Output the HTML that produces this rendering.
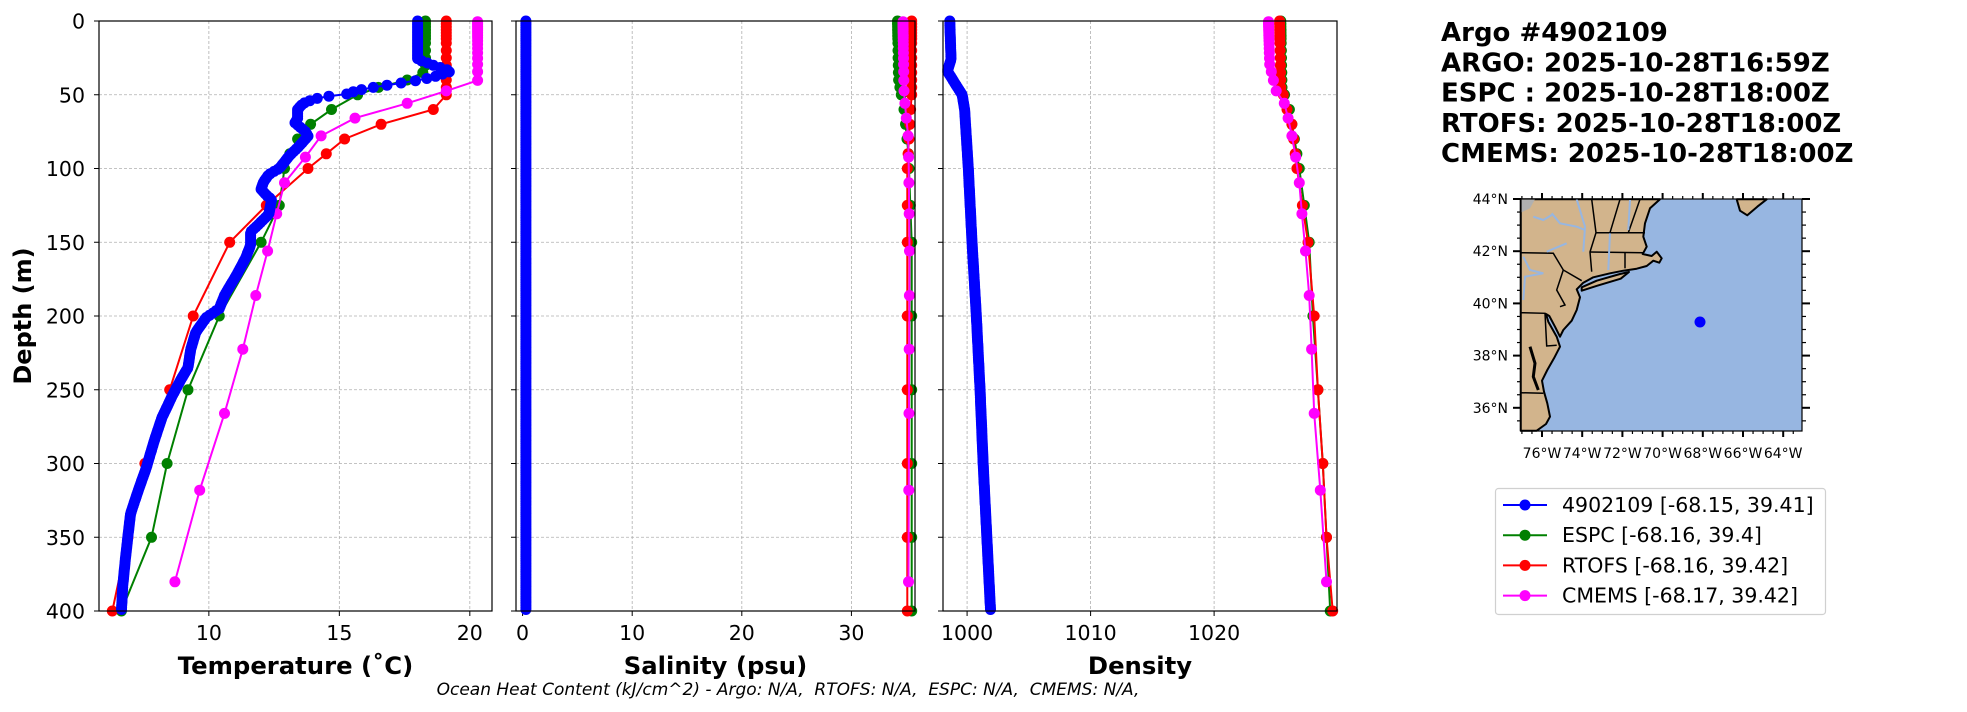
<!DOCTYPE html>
<html><head><meta charset="utf-8">
<style>
html,body{margin:0;padding:0;background:#fff;}
body{width:1967px;height:712px;overflow:hidden;position:relative;font-family:"DejaVu Sans","Liberation Sans",sans-serif;}
svg{position:absolute;left:0;top:0;}
</style></head><body>
<svg id="s" width="1967" height="712" xmlns="http://www.w3.org/2000/svg" font-family="DejaVu Sans, Liberation Sans, sans-serif"></svg>
<script>
(function(){
const S=document.getElementById('s');let h='';
const yT=21,yB=611;const dy=d=>yT+d*(yB-yT)/400;
const panels={
 t:{l:99,r:492,x0:5.79,x1:20.85},
 s:{l:516,r:915,x0:-0.6,x1:35.8},
 d:{l:943,r:1337,x0:998.05,x1:1029.95}
};
const px=(p,v)=>p.l+(v-p.x0)/(p.x1-p.x0)*(p.r-p.l);
function interp(pts,d){for(let i=0;i<pts.length-1;i++){if(d>=pts[i][0]&&d<=pts[i+1][0]){const f=(d-pts[i][0])/((pts[i+1][0]-pts[i][0])||1);return pts[i][1]+f*(pts[i+1][1]-pts[i][1]);}}return pts[pts.length-1][1];}
function series(p,depths,pts,col,lw,r){let s='';const c=depths.map(d=>[px(p,interp(pts,d)),dy(d)]);
 s+='<polyline points="'+c.map(q=>q[0].toFixed(1)+','+q[1].toFixed(1)).join(' ')+'" fill="none" stroke="'+col+'" stroke-width="'+lw+'"/>';
 c.forEach(q=>{s+='<circle cx="'+q[0].toFixed(1)+'" cy="'+q[1].toFixed(1)+'" r="'+r+'" fill="'+col+'"/>';});return s;}
function panel(p,ticks,xlabel){
 let s='';
 ticks.forEach(v=>{const x=px(p,v);s+=`<line x1="${x}" y1="${yT}" x2="${x}" y2="${yB}" stroke="#b0b0b0" stroke-width="0.8" stroke-dasharray="3,2"/>`;
  s+=`<line x1="${x}" y1="${yB}" x2="${x}" y2="${yB+5}" stroke="#000" stroke-width="1"/>`;
  s+=`<text x="${x}" y="640" font-size="20.5" text-anchor="middle">${v}</text>`;});
 for(let d=50;d<400;d+=50){s+=`<line x1="${p.l}" y1="${dy(d)}" x2="${p.r}" y2="${dy(d)}" stroke="#b0b0b0" stroke-width="0.8" stroke-dasharray="3,2"/>`;}
 for(let d=0;d<=400;d+=50){s+=`<line x1="${p.l-5}" y1="${dy(d)}" x2="${p.l}" y2="${dy(d)}" stroke="#000" stroke-width="1"/>`;}
 s+=`<text x="${(p.l+p.r)/2}" y="674" font-size="24.3" font-weight="bold" text-anchor="middle">${xlabel}</text>`;
 return s;}
h+=panel(panels.t,[10,15,20],'Temperature (˚C)');
h+=panel(panels.s,[0,10,20,30],'Salinity (psu)');
h+=panel(panels.d,[1000,1010,1020],'Density');
for(let d=0;d<=400;d+=50)h+=`<text x="85" y="${dy(d)+7.5}" font-size="20.5" text-anchor="end">${d}</text>`;
h+=`<text transform="translate(31,316) rotate(-90)" font-size="24" font-weight="bold" text-anchor="middle">Depth (m)</text>`;
const argoT=[[0,18.0],[26,18.0],[30,18.6],[34,19.3],[38,18.6],[40,18.1],[43,17.0],[45,16.3],[47,15.7],[50,15.2],[51,14.6],[53,14.0],[56,13.6],[60,13.4],[66,13.4],[69,13.3],[75,13.7],[78,13.8],[86,13.4],[91,13.1],[100,12.7],[104,12.3],[109,12.1],[114,12.0],[118,12.2],[121,12.4],[131,12.3],[138,11.9],[143,11.6],[152,11.6],[161,11.4],[171,11.1],[186,10.6],[195,10.4],[201,9.9],[211,9.5],[223,9.3],[235,9.2],[244,8.9],[254,8.6],[269,8.2],[285,7.9],[303,7.6],[318,7.3],[334,7.0],[349,6.9],[365,6.8],[383,6.7],[400,6.65]];
const argoD=[];for(let d=0;d<=400;d+=1.5)argoD.push(d);
const mL=[0,2,4,6,8,10,12,15,20,25,30,35,40,45,50,60,70,80,90,100,125,150,200,250,300,350,400];
const cL=[0.5,1.5,2.6,3.8,5.1,6.4,7.9,9.6,11.4,13.5,15.8,18.5,21.6,25.2,29.4,34.4,40.3,47.4,55.8,65.8,77.9,92.3,109.7,130.7,155.9,186.1,222.5,266.0,318.1,380.2];
const espT=[[0,18.3],[30,18.3],[35,18.2],[40,17.6],[45,16.5],[50,15.7],[60,14.7],[70,13.9],[80,13.4],[90,13.1],[100,12.9],[125,12.7],[150,12.0],[200,10.4],[250,9.2],[300,8.4],[350,7.8],[400,6.65]];
const rtT=[[0,19.1],[50,19.1],[60,18.6],[70,16.6],[80,15.2],[90,14.5],[100,13.8],[125,12.2],[150,10.8],[200,9.4],[250,8.5],[300,7.55],[350,6.9],[400,6.3]];
const cmT=[[0,20.3],[40.3,20.3],[47.4,19.1],[55.8,17.6],[65.8,15.6],[77.9,14.3],[92.3,13.7],[109.7,12.9],[130.7,12.6],[155.9,12.25],[186.1,11.8],[222.5,11.3],[266,10.6],[318.1,9.65],[380.2,8.7]];
h+=series(panels.t,mL,espT,'#008000',2,5.5);
h+=series(panels.t,mL,rtT,'#ff0000',2,5.5);
h+=series(panels.t,cL,cmT,'#ff00ff',2,5.5);
h+=series(panels.t,argoD,argoT,'#0000ff',2,5.5);
h+=series(panels.s,mL,[[0,34.2],[40,34.3],[60,34.8],[90,35.2],[150,35.5],[400,35.5]],'#008000',2,5.5);
h+=series(panels.s,mL,[[0,35.5],[50,35.5],[60,35.4],[100,35.1],[400,35.1]],'#ff0000',2,5.5);
h+=series(panels.s,cL,[[0,34.7],[50,34.8],[80,35.2],[150,35.3],[400,35.2]],'#ff00ff',2,5.5);
h+=series(panels.s,argoD,[[0,0.3],[400,0.3]],'#0000ff',2,5.5);
h+=series(panels.d,mL,[[0,1025.4],[45,1025.5],[50,1025.7],[60,1026.1],[100,1026.9],[150,1027.7],[200,1028.0],[300,1028.8],[400,1029.4]],'#008000',2,5.5);
h+=series(panels.d,mL,[[0,1025.3],[45,1025.4],[50,1025.6],[60,1025.9],[70,1026.3],[100,1026.7],[150,1027.6],[200,1028.1],[250,1028.4],[300,1028.8],[350,1029.1],[400,1029.6]],'#ff0000',2,5.5);
h+=series(panels.d,cL,[[0,1024.4],[30,1024.5],[47,1025.0],[56,1025.7],[66,1026.0],[78,1026.3],[92,1026.6],[110,1026.9],[130,1027.1],[156,1027.4],[186,1027.7],[223,1027.9],[266,1028.1],[318,1028.6],[380,1029.1]],'#ff00ff',2,5.5);
h+=series(panels.d,argoD,[[0,998.6],[26,998.7],[34,998.4],[42,999.0],[50,999.6],[60,999.8],[100,1000.1],[150,1000.4],[200,1000.75],[250,1001.05],[300,1001.3],[350,1001.6],[400,1001.9]],'#0000ff',2,5.5);
for(const k in panels){const p=panels[k];h+=`<rect x="${p.l}" y="${yT}" width="${p.r-p.l}" height="${yB-yT}" fill="none" stroke="#000" stroke-width="1.2"/>`;}
h+=`<text x="788" y="695" font-size="17" font-style="italic" text-anchor="middle" xml:space="preserve">Ocean Heat Content (kJ/cm^2) - Argo: N/A,  RTOFS: N/A,  ESPC: N/A,  CMEMS: N/A,</text>`;
['Argo #4902109','ARGO: 2025-10-28T16:59Z','ESPC : 2025-10-28T18:00Z','RTOFS: 2025-10-28T18:00Z','CMEMS: 2025-10-28T18:00Z'].forEach((t,i)=>{
 h+=`<text x="1441" y="${41+i*30.3}" font-size="26" font-weight="bold">${t}</text>`;});
const mx=z=>z/3+1510,my=z=>z/3+190;
const poly=(arr,fill,stroke,sw)=>`<polygon points="${arr.map(q=>mx(q[0]).toFixed(1)+','+my(q[1]).toFixed(1)).join(' ')}" fill="${fill}" stroke="${stroke}" stroke-width="${sw}" stroke-linejoin="round"/>`;
const pl=(arr,stroke,sw)=>`<polyline points="${arr.map(q=>mx(q[0]).toFixed(1)+','+my(q[1]).toFixed(1)).join(' ')}" fill="none" stroke="${stroke}" stroke-width="${sw}"/>`;
h+=`<rect x="1521" y="199" width="281" height="232" fill="#97b6e1"/>`;
h+=poly([[32,28],[450,28],[420,55],[405,100],[400,140],[410,170],[398,192],[425,198],[440,185],[455,205],[448,218],[430,212],[410,228],[380,236],[340,242],[300,250],[250,262],[220,278],[200,298],[210,322],[200,360],[185,392],[160,420],[150,440],[135,410],[118,378],[108,372],[115,395],[140,440],[150,470],[132,505],[112,540],[96,572],[102,605],[112,640],[120,680],[108,702],[80,722],[32,722]],'#d2b48c','#000',2);
h+=poly([[215,292],[260,272],[330,252],[357,246],[332,266],[262,287],[215,302]],'#d2b48c','#000',2);
h+=poly([[680,28],[770,28],[742,50],[712,76],[690,62]],'#d2b48c','#000',2);
h+=poly([[32,28],[75,28],[60,55],[32,68]],'#b0b0b0','none',0);
h+=pl([[32,188],[130,190],[160,240],[215,272]],'#000',1.5);
h+=pl([[245,28],[258,128],[240,186],[245,245]],'#000',1.5);
h+=pl([[258,128],[405,128]],'#000',1.5);
h+=pl([[240,186],[400,188]],'#000',1.5);
h+=pl([[345,188],[345,235]],'#000',1.5);
h+=pl([[300,128],[330,28]],'#000',1.5);
h+=pl([[355,128],[390,28]],'#000',1.5);
h+=pl([[160,240],[140,300],[165,345],[150,350]],'#000',1.5);
h+=pl([[32,368],[105,370],[110,468],[140,466]],'#000',1.5);
h+=pl([[32,608],[100,610]],'#000',1.5);
h+=pl([[60,470],[75,520],[70,560],[85,600]],'#000',3);
h+=pl([[200,28],[225,110],[220,185]],'#97b6e1',2);
h+=pl([[125,70],[150,100],[200,110],[225,120]],'#97b6e1',2);
h+=pl([[70,80],[100,90],[125,75]],'#97b6e1',2);
h+=pl([[40,200],[60,240],[100,250],[45,260],[40,330]],'#97b6e1',2);
h+=pl([[110,185],[170,160]],'#97b6e1',2);
h+=pl([[300,130],[295,240]],'#97b6e1',2);
h+=pl([[360,30],[355,120]],'#97b6e1',2);
h+=`<circle cx="1700" cy="322" r="5.5" fill="#0000ff"/>`;
h+=`<rect x="1521" y="199" width="281" height="232" fill="none" stroke="#000" stroke-width="1.2"/>`;
for(let lo=77;lo>=63;lo-=0.5){const x=1542+(76-lo)*20.1;if(x<1521||x>1802)continue;const maj=lo%2==0;
 h+=`<line x1="${x}" y1="431" x2="${x}" y2="${431+(maj?6:3)}" stroke="#000" stroke-width="${maj?2:1.2}"/>`;
 h+=`<line x1="${x}" y1="199" x2="${x}" y2="${199-(maj?6:3)}" stroke="#000" stroke-width="${maj?2:1.2}"/>`;
 if(maj)h+=`<text x="${x}" y="458" font-size="14" text-anchor="middle">${lo}°W</text>`;}
for(let la=35;la<=44;la+=0.5){const y=199+(44-la)*26.1;if(y<199||y>432)continue;const maj=la%2==0;
 h+=`<line x1="1521" y1="${y}" x2="${1521-(maj?8:4)}" y2="${y}" stroke="#000" stroke-width="${maj?2:1.2}"/>`;
 h+=`<line x1="1802" y1="${y}" x2="${1802+(maj?8:4)}" y2="${y}" stroke="#000" stroke-width="${maj?2:1.2}"/>`;
 if(maj)h+=`<text x="1508" y="${y+5}" font-size="14" text-anchor="end">${la}°N</text>`;}
h+=`<rect x="1495.5" y="488.5" width="330" height="126" rx="3" fill="#fff" stroke="#d0d0d0" stroke-width="1.2"/>`;
[['#0000ff','4902109 [-68.15, 39.41]'],['#008000','ESPC [-68.16, 39.4]'],['#ff0000','RTOFS [-68.16, 39.42]'],['#ff00ff','CMEMS [-68.17, 39.42]']].forEach((e,i)=>{
 const y=505+i*30.2;h+=`<line x1="1503" y1="${y}" x2="1547" y2="${y}" stroke="${e[0]}" stroke-width="2"/><circle cx="1525" cy="${y}" r="5.5" fill="${e[0]}"/>`;
 h+=`<text x="1562" y="${y+7}" font-size="20.5">${e[1]}</text>`;});
S.innerHTML=h;
})();
</script>
</body></html>
